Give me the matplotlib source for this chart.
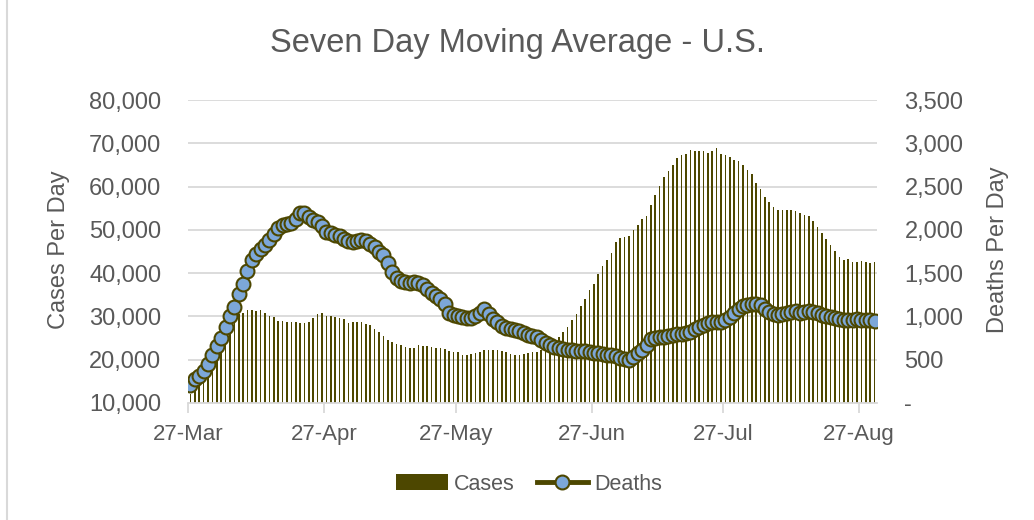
import pandas as pd
import matplotlib
matplotlib.use("Agg")
import matplotlib.pyplot as plt
import matplotlib.dates as mdates
from matplotlib.ticker import FuncFormatter, MultipleLocator
from matplotlib.lines import Line2D

plt.rcParams['font.family'] = ['Liberation Sans', 'DejaVu Sans']

# datos (promedio movil de 7 dias, EE.UU.)
fecha_inicio = "2020-03-27"
n_dias = 157

casos = [
    12000, 13500, 15500, 17500, 19500, 21500, 23500, 25300, 27000, 28500,
    29500, 30500, 30800, 31500, 31600, 31300, 31500, 30800, 30100, 29800,
    29000, 28900, 28600, 28600, 28600, 28500, 28500, 28700, 29600, 30500,
    30800, 30200, 30000, 29900, 29600, 29400, 28500, 28700, 28800, 28700,
    28300, 28000, 27000, 26400, 25500, 24600, 24100, 23700, 23300, 23000,
    22800, 22800, 23300, 23100, 23100, 23000, 22800, 22600, 22400, 22100,
    21800, 21800, 21100, 21200, 21300, 21500, 21800, 22200, 22200, 22200,
    22200, 22100, 21800, 21300, 21200, 21200, 21400, 21600, 21700, 21800,
    22200, 22600, 23600, 24300, 25300, 26500, 27500, 29100, 30500, 32400,
    34000, 36100, 37600, 39700, 41600, 43000, 44700, 47100, 48200, 48400,
    48600, 49900, 51200, 52600, 53200, 55700, 58000, 60100, 62200, 63600,
    64900, 66700, 67200, 67500, 68400, 68200, 68200, 68200, 67800, 68200,
    68800, 67500, 67300, 66800, 66100, 65900, 64900, 63800, 62800, 60800,
    59400, 57600, 56500, 55300, 54700, 54500, 54500, 54500, 54400, 53800,
    53400, 53300, 52100, 50700, 49200, 47800, 46600, 45100, 43800, 43000,
    43200, 42600, 42600, 42700, 42500, 42400, 42500,
]

muertes = [
    210, 277, 315, 365, 455, 558, 662, 750, 877, 1000,
    1108, 1258, 1377, 1519, 1654, 1719, 1777, 1827, 1885, 1954,
    2019, 2058, 2065, 2077, 2123, 2190, 2200, 2150, 2110, 2090,
    2040, 1980, 1960, 1945, 1925, 1895, 1875, 1865, 1870, 1880,
    1870, 1840, 1800, 1745, 1705, 1620, 1510, 1440, 1415, 1395,
    1390, 1395, 1390, 1360, 1315, 1275, 1240, 1205, 1145, 1040,
    1015, 1000, 990, 982, 985, 1000, 1040, 1085, 1030, 975,
    935, 895, 868, 850, 840, 828, 812, 788, 775, 765,
    730, 695, 672, 652, 635, 622, 616, 610, 605, 603,
    595, 588, 578, 572, 565, 557, 552, 543, 520, 505,
    497, 530, 575, 615, 670, 735, 752, 763, 766, 772,
    783, 795, 802, 810, 825, 850, 878, 905, 925, 935,
    938, 940, 955, 990, 1040, 1090, 1118, 1130, 1148, 1140,
    1128, 1090, 1055, 1030, 1018, 1025, 1040, 1055, 1065, 1045,
    1052, 1062, 1055, 1038, 1020, 1005, 995, 985, 975, 962,
    958, 962, 965, 960, 958, 955, 950,
]

fechas_ticks = ["2020-03-27", "2020-04-27", "2020-05-27", "2020-06-27",
                "2020-07-27", "2020-08-27"]

gris = "#595959"
linea_gris = "#d9d9d9"
oliva = "#4d4700"
azul = "#7ca7d9"

# cada barra va en el centro de su dia (eje de fechas "entre marcas")
fechas = pd.date_range(fecha_inicio, periods=n_dias) + pd.Timedelta(hours=12)

fig = plt.figure(figsize=(10.34, 5.2), dpi=100)
ax = fig.add_axes([188.3 / 1034, 1 - 403 / 520, 688.4 / 1034, 303 / 520])
ax2 = ax.twinx()

ax.bar(fechas, casos, width=0.38, color=oliva, linewidth=0, label="Cases", zorder=2)
ax2.plot(fechas, muertes, color=oliva, linewidth=3.5, marker="o", markersize=10,
         markerfacecolor=azul, markeredgecolor=oliva, markeredgewidth=1.5,
         label="Deaths", zorder=3)

# eje izquierdo
ax.set_ylim(10000, 80000)
ax.yaxis.set_major_locator(MultipleLocator(10000))
ax.yaxis.set_major_formatter(FuncFormatter(lambda v, p: f"{v:,.0f}"))
ax.grid(axis="y", color=linea_gris, linewidth=1.3, zorder=0)
ax.set_axisbelow(True)
ax.set_ylabel("Cases Per Day", fontsize=17, color=gris)
ax.yaxis.set_label_coords(-0.172, 0.505)

# eje derecho
ax2.set_ylim(0, 3500)
ax2.yaxis.set_major_locator(MultipleLocator(500))
ax2.yaxis.set_major_formatter(FuncFormatter(lambda v, p: "-" if v == 0 else f"{v:,.0f}"))
ax2.set_ylabel("Deaths Per Day", fontsize=17, color=gris, rotation=90)
ax2.yaxis.set_label_coords(1.160, 0.505)

# eje x con fechas
ax.set_xlim(pd.Timestamp(fecha_inicio), pd.Timestamp(fecha_inicio) + pd.Timedelta(days=n_dias))
ax.set_xticks(pd.to_datetime(fechas_ticks))
ax.xaxis.set_major_formatter(mdates.DateFormatter("%d-%b"))

for a in (ax, ax2):
    for s in a.spines.values():
        s.set_visible(False)
ax.spines["bottom"].set_visible(True)
ax.spines["bottom"].set_color(linea_gris)
ax.spines["bottom"].set_linewidth(1.3)

ax.tick_params(axis="x", colors=linea_gris, length=7, width=1.3, pad=8,
               labelsize=16, labelcolor=gris)
ax.tick_params(axis="y", length=0, pad=19.5, labelsize=17, labelcolor=gris)
ax2.tick_params(axis="y", length=0, pad=20, labelsize=17, labelcolor=gris)

fig.text(0.5005, 1 - 52 / 520, "Seven Day Moving Average - U.S.", ha="center",
         va="baseline", fontsize=23.5, color=gris)

h1, l1 = ax.get_legend_handles_labels()
h2, l2 = ax2.get_legend_handles_labels()
fig.legend(h1 + h2, l1 + l2, loc="center", bbox_to_anchor=(0.512, 1 - 484 / 520),
           ncol=2, frameon=False, fontsize=15.5, handlelength=2.4,
           handletextpad=0.3, columnspacing=1.0, labelcolor=gris)

# borde del area del grafico
fig.add_artist(Line2D([7 / 1034, 7 / 1034], [0, 1], color=linea_gris, linewidth=1.5))

fig.savefig("out.png", dpi=100)
